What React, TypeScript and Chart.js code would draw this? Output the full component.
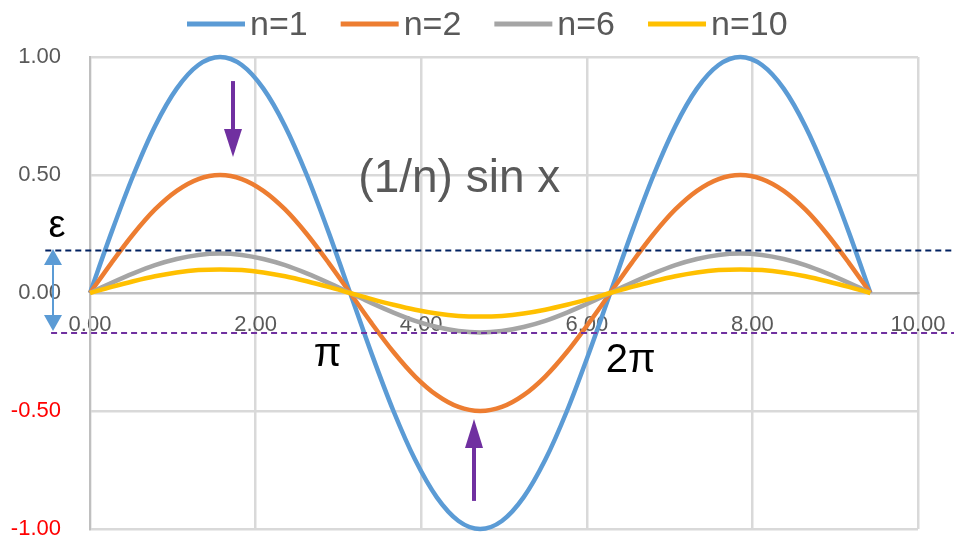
import React, { useEffect, useRef } from "react";
import { Chart, registerables } from "chart.js";

Chart.register(...registerables);

// x values: 0 .. 3π in steps of π/12
const X_VALUES = [
  0, 0.262, 0.524, 0.785, 1.047, 1.309, 1.571, 1.833, 2.094, 2.356, 2.618, 2.88,
  3.142, 3.403, 3.665, 3.927, 4.189, 4.451, 4.712, 4.974, 5.236, 5.498, 5.76, 6.021,
  6.283, 6.545, 6.807, 7.069, 7.33, 7.592, 7.854, 8.116, 8.378, 8.639, 8.901, 9.163, 9.425,
];

const N1_VALUES = [
  0, 0.259, 0.5, 0.707, 0.866, 0.966, 1, 0.966, 0.866, 0.707, 0.5, 0.259,
  0, -0.259, -0.5, -0.707, -0.866, -0.966, -1, -0.966, -0.866, -0.707, -0.5, -0.259,
  0, 0.259, 0.5, 0.707, 0.866, 0.966, 1, 0.966, 0.866, 0.707, 0.5, 0.259, 0,
];
const N2_VALUES = [
  0, 0.129, 0.25, 0.354, 0.433, 0.483, 0.5, 0.483, 0.433, 0.354, 0.25, 0.129,
  0, -0.129, -0.25, -0.354, -0.433, -0.483, -0.5, -0.483, -0.433, -0.354, -0.25, -0.129,
  0, 0.129, 0.25, 0.354, 0.433, 0.483, 0.5, 0.483, 0.433, 0.354, 0.25, 0.129, 0,
];
const N6_VALUES = [
  0, 0.043, 0.083, 0.118, 0.144, 0.161, 0.167, 0.161, 0.144, 0.118, 0.083, 0.043,
  0, -0.043, -0.083, -0.118, -0.144, -0.161, -0.167, -0.161, -0.144, -0.118, -0.083, -0.043,
  0, 0.043, 0.083, 0.118, 0.144, 0.161, 0.167, 0.161, 0.144, 0.118, 0.083, 0.043, 0,
];
const N10_VALUES = [
  0, 0.026, 0.05, 0.071, 0.087, 0.097, 0.1, 0.097, 0.087, 0.071, 0.05, 0.026,
  0, -0.026, -0.05, -0.071, -0.087, -0.097, -0.1, -0.097, -0.087, -0.071, -0.05, -0.026,
  0, 0.026, 0.05, 0.071, 0.087, 0.097, 0.1, 0.097, 0.087, 0.071, 0.05, 0.026, 0,
];

const SERIES_LABELS = ["n=1", "n=2", "n=6", "n=10"];
const SERIES_VALUES = [N1_VALUES, N2_VALUES, N6_VALUES, N10_VALUES];
const SERIES_COLORS = ["#5b9bd5", "#ed7d31", "#a5a5a5", "#ffc000"];

const X_MIN = 0;
const X_MAX = 10;
const X_STEP = 2;
const Y_MIN = -1;
const Y_MAX = 1;
const Y_STEP = 0.5;

// annotations (data units)
const EPS_UPPER = 0.18;
const EPS_LOWER = -0.17;
const TITLE_TEXT = "(1/n) sin x";
const PI_LABELS = [
  { text: "π", x: 2.87, y: -0.31 },
  { text: "2π", x: 6.53, y: -0.335 },
];
const EPS_LABEL = { text: "ε", x: -0.4, y: 0.237 };

const FONT = "'Liberation Sans', Arial, sans-serif";

export default function App() {
  const ref = useRef<HTMLCanvasElement | null>(null);

  useEffect(() => {
    document.body.style.margin = "0";
    const canvas = ref.current;
    if (!canvas) return;

    const arrow = (
      ctx: CanvasRenderingContext2D,
      x: number,
      yFrom: number,
      yTo: number,
      color: string,
      shaftW: number,
      headW: number,
      headL: number,
      both: boolean
    ) => {
      ctx.save();
      ctx.strokeStyle = color;
      ctx.fillStyle = color;
      ctx.lineWidth = shaftW;
      const dir = yTo > yFrom ? 1 : -1;
      const startY = both ? yFrom + dir * headL : yFrom;
      ctx.beginPath();
      ctx.moveTo(x, startY);
      ctx.lineTo(x, yTo - dir * headL);
      ctx.stroke();
      const head = (tip: number, d: number) => {
        ctx.beginPath();
        ctx.moveTo(x, tip);
        ctx.lineTo(x - headW / 2, tip - d * headL);
        ctx.lineTo(x + headW / 2, tip - d * headL);
        ctx.closePath();
        ctx.fill();
      };
      head(yTo, dir);
      if (both) head(yFrom, -dir);
      ctx.restore();
    };

    const annotPlugin = {
      id: "annot",
      afterDatasetsDraw(chart: any) {
        const ctx: CanvasRenderingContext2D = chart.ctx;
        const xs = chart.scales.x;
        const ys = chart.scales.y;
        const W = chart.width;

        // dashed epsilon lines
        ctx.save();
        ctx.lineWidth = 2;
        ctx.setLineDash([6, 4]);
        ctx.strokeStyle = "#002060";
        ctx.beginPath();
        const yu = ys.getPixelForValue(EPS_UPPER);
        ctx.moveTo(xs.getPixelForValue(-0.54), yu);
        ctx.lineTo(W, yu);
        ctx.stroke();
        ctx.strokeStyle = "#7030a0";
        ctx.beginPath();
        const yl = ys.getPixelForValue(EPS_LOWER);
        ctx.moveTo(xs.getPixelForValue(-0.47), yl);
        ctx.lineTo(W, yl);
        ctx.stroke();
        ctx.restore();

        // epsilon double arrow
        arrow(
          ctx,
          xs.getPixelForValue(-0.447),
          ys.getPixelForValue(0.186),
          ys.getPixelForValue(-0.161),
          "#5b9bd5",
          2,
          18,
          16,
          true
        );

        // purple arrows
        arrow(
          ctx,
          xs.getPixelForValue(1.727),
          ys.getPixelForValue(0.898),
          ys.getPixelForValue(0.576),
          "#7030a0",
          4,
          18,
          28,
          false
        );
        arrow(
          ctx,
          xs.getPixelForValue(4.638),
          ys.getPixelForValue(-0.881),
          ys.getPixelForValue(-0.534),
          "#7030a0",
          4,
          18,
          29,
          false
        );

        // texts
        ctx.save();
        ctx.textBaseline = "alphabetic";
        ctx.textAlign = "center";
        ctx.fillStyle = "#595959";
        ctx.font = `46px ${FONT}`;
        ctx.fillText(TITLE_TEXT, xs.getPixelForValue(4.46), ys.getPixelForValue(0.428));
        ctx.fillStyle = "#000000";
        ctx.font = `40px ${FONT}`;
        PI_LABELS.forEach((l) => {
          ctx.fillText(l.text, xs.getPixelForValue(l.x), ys.getPixelForValue(l.y));
        });
        ctx.font = `38px ${FONT}`;
        ctx.fillText(EPS_LABEL.text, xs.getPixelForValue(EPS_LABEL.x), ys.getPixelForValue(EPS_LABEL.y));
        ctx.restore();
      },
      afterDraw(chart: any) {
        // legend
        const ctx: CanvasRenderingContext2D = chart.ctx;
        ctx.save();
        ctx.font = `34px ${FONT}`;
        ctx.textBaseline = "alphabetic";
        ctx.textAlign = "left";
        let x = 187;
        chart.data.datasets.forEach((ds: any) => {
          ctx.strokeStyle = ds.borderColor;
          ctx.lineWidth = 5;
          ctx.beginPath();
          ctx.moveTo(x, 24);
          ctx.lineTo(x + 58, 24);
          ctx.stroke();
          ctx.fillStyle = "#595959";
          ctx.fillText(ds.label, x + 63, 35);
          x += 63 + ctx.measureText(ds.label).width + 33;
        });
        ctx.restore();
      },
    };

    const chart = new Chart(canvas, {
      type: "line",
      data: {
        datasets: SERIES_LABELS.map((label, i) => ({
          label,
          data: X_VALUES.map((x, j) => ({ x, y: SERIES_VALUES[i][j] })),
          borderColor: SERIES_COLORS[i],
          backgroundColor: SERIES_COLORS[i],
          borderWidth: 4.5,
          pointRadius: 0,
          cubicInterpolationMode: "monotone" as const,
          fill: false,
          clip: false as any,
          order: SERIES_LABELS.length - i,
        })),
      },
      options: {
        responsive: false,
        animation: false,
        layout: { padding: { top: 57, bottom: 21, left: 0, right: 36 } },
        plugins: {
          legend: { display: false },
          tooltip: { enabled: false },
        },
        scales: {
          x: {
            type: "linear",
            position: { y: 0 } as any,
            min: X_MIN,
            max: X_MAX,
            afterFit: (s: any) => {
              s.height = 0;
              s.paddingLeft = 0;
              s.paddingRight = 0;
              s.paddingTop = 0;
              s.paddingBottom = 0;
            },
            ticks: {
              stepSize: X_STEP,
              padding: 19,
              color: "#595959",
              font: { family: FONT, size: 22 },
              callback: (v: any) => Number(v).toFixed(2),
            },
            grid: { color: "#d9d9d9", lineWidth: 2.5, drawTicks: false },
            border: { color: "#bfbfbf", width: 2 },
          },
          y: {
            type: "linear",
            min: Y_MIN,
            max: Y_MAX,
            afterFit: (s: any) => {
              s.width = 90;
              s.paddingTop = 0;
              s.paddingBottom = 0;
            },
            ticks: {
              stepSize: Y_STEP,
              padding: 29,
              color: (c: any) => (c.tick && c.tick.value < 0 ? "#ff0000" : "#595959"),
              font: { family: FONT, size: 22 },
              callback: (v: any) => Number(v).toFixed(2),
            },
            grid: {
              color: (c: any) => (c.tick && c.tick.value === 0 ? "#bfbfbf" : "#d9d9d9"),
              lineWidth: 2.5,
              drawTicks: false,
            },
            border: { color: "#bfbfbf", width: 2 },
          },
        },
      },
      plugins: [annotPlugin],
    });

    return () => chart.destroy();
  }, []);

  return (
    <div style={{ position: "absolute", left: 0, top: 0, width: 954, height: 550 }}>
      <canvas ref={ref} width={954} height={550} />
    </div>
  );
}
